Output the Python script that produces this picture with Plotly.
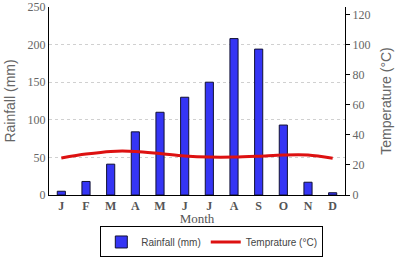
import plotly.graph_objects as go

month_labels = ["J", "F", "M", "A", "M", "J", "J", "A", "S", "O", "N", "D"]
rainfall = [5, 18, 41, 84, 110, 130, 150, 208, 194, 93, 17, 3]
temperature = [24.6, 27.2, 29.0, 29.0, 27.6, 26.0, 25.2, 25.2, 25.8, 26.6, 26.6, 24.4]

x_idx = list(range(len(month_labels)))

fig = go.Figure()
fig.add_trace(go.Bar(
    x=x_idx, y=rainfall, name="Rainfall (mm)",
    marker=dict(color="#3535f5", line=dict(color="#111133", width=1)),
    width=0.33,
))
fig.add_trace(go.Scatter(
    x=x_idx, y=temperature, name="Temprature (°C)", yaxis="y2",
    mode="lines", line=dict(color="#dd1111", width=3, shape="spline", smoothing=0.9),
))

fig.update_layout(
    width=400, height=258,
    margin=dict(l=49, r=55, t=7, b=63, autoexpand=False),
    plot_bgcolor="white", paper_bgcolor="white",
    showlegend=True,
    legend=dict(
        orientation="h", x=0.55, xanchor="center",
        yref="container", y=0.002, yanchor="bottom",
        bordercolor="black", borderwidth=1,
        font=dict(family="Liberation Sans", size=10, color="#444"),
        tracegroupgap=0,
    ),
    xaxis=dict(
        tickmode="array", tickvals=x_idx,
        ticktext=["<b>%s</b>" % m for m in month_labels],
        range=[-0.5, 11.5], automargin=True,
        showline=True, linecolor="black", linewidth=1,
        ticks="", showgrid=False,
        tickfont=dict(family="Liberation Serif", size=12, color="#555"),
        title=dict(text="Month", standoff=2,
                   font=dict(family="Liberation Serif", size=13, color="#555")),
    ),
    yaxis=dict(
        range=[0, 250], dtick=50, automargin=False,
        showline=True, linecolor="black", linewidth=1,
        ticks="", showgrid=True, gridcolor="#d0d0d0", griddash="dot", gridwidth=1,
        zeroline=False,
        tickfont=dict(family="Liberation Serif", size=12, color="#666"),
        title=dict(text="Rainfall (mm)", standoff=8,
                   font=dict(family="Liberation Sans", size=14, color="#666")),
    ),
    yaxis2=dict(
        range=[0, 125], dtick=20, overlaying="y", side="right", automargin=False,
        showline=True, linecolor="black", linewidth=1,
        ticks="outside", ticklen=4, tickcolor="black",
        showgrid=False, zeroline=False,
        tickfont=dict(family="Liberation Serif", size=12, color="#666"),
        title=dict(text="Temperature (°C)", standoff=11,
                   font=dict(family="Liberation Sans", size=14, color="#666")),
    ),
)

fig.write_html("out.html", config={"displayModeBar": False},
               post_script="document.body.style.margin='0';document.body.style.padding='0';")
